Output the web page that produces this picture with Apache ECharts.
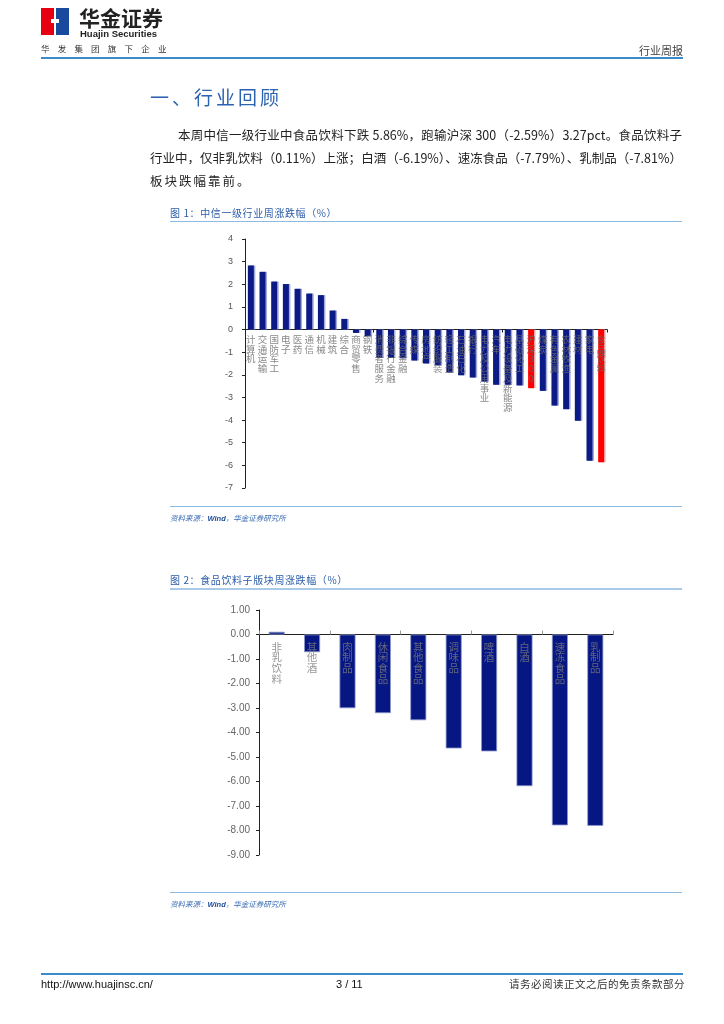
<!DOCTYPE html>
<html>
<head>
<meta charset="utf-8">
<script src="https://cdn.jsdelivr.net/npm/echarts@6/dist/echarts.min.js"></script>
<style>
  html,body{margin:0;padding:0;background:#fff;}
  body{width:724px;height:1024px;position:relative;overflow:hidden;font-family:"Noto Sans CJK SC","Liberation Sans",sans-serif;}
  #chart{position:absolute;left:0;top:0;width:724px;height:1024px;}
  .t{position:absolute;white-space:nowrap;line-height:1;}
  .line{position:absolute;}
</style>
</head>
<body>
<div id="chart"></div>

<!-- header -->
<div class="line" style="left:41px;top:8px;width:13px;height:27px;background:#E60012;"></div>
<div class="line" style="left:56px;top:8px;width:13px;height:27px;background:#1A4A9E;"></div>
<div class="line" style="left:51px;top:19px;width:8px;height:4px;background:#fff;"></div>
<div class="t" style="left:79px;top:7px;font-size:21px;font-weight:bold;color:#222;">华金证券</div>
<div class="t" style="left:80px;top:29px;font-size:9.5px;font-weight:bold;color:#222;font-family:'Liberation Sans',sans-serif;">Huajin Securities</div>
<div class="t" style="left:41px;top:44px;font-size:8.5px;color:#333;letter-spacing:8.2px;">华发集团旗下企业</div>
<div class="t" style="left:639px;top:45px;font-size:11px;color:#444;">行业周报</div>
<div class="line" style="left:41px;top:57px;width:642px;height:2px;background:#3A8DCA;"></div>

<!-- heading & paragraph -->
<div class="t" style="left:150px;top:87px;font-size:19px;color:#2C63B1;letter-spacing:3px;">一、行业回顾</div>
<div class="t" style="left:178px;top:129px;width:504px;font-size:12.5px;color:#222;text-align:justify;text-align-last:justify;">本周中信一级行业中食品饮料下跌 5.86%，跑输沪深 300（-2.59%）3.27pct。食品饮料子</div>
<div class="t" style="left:150px;top:152px;width:532px;font-size:12.5px;color:#222;text-align:justify;text-align-last:justify;">行业中，仅非乳饮料（0.11%）上涨；白酒（-6.19%）、速冻食品（-7.79%）、乳制品（-7.81%）</div>
<div class="t" style="left:150px;top:175px;font-size:12.5px;color:#222;letter-spacing:2px;">板块跌幅靠前。</div>

<!-- figure 1 caption -->
<div class="t" style="left:170px;top:208px;font-size:10px;color:#2C5DA8;letter-spacing:0.6px;">图 1：中信一级行业周涨跌幅（%）</div>
<div class="line" style="left:170px;top:221px;width:512px;height:1px;background:#8DBBE2;"></div>
<div class="line" style="left:170px;top:506px;width:512px;height:1px;background:#8DBBE2;"></div>
<div class="t" style="left:170px;top:514px;font-size:7.5px;color:#3C6DB5;font-style:italic;">资料来源：<span style="font-family:'Liberation Sans';font-weight:bold;color:#1F4E9A;">Wind</span>，华金证券研究所</div>

<!-- figure 2 caption -->
<div class="t" style="left:170px;top:575px;font-size:10px;color:#2C5DA8;letter-spacing:0.6px;">图 2：食品饮料子版块周涨跌幅（%）</div>
<div class="line" style="left:170px;top:588px;width:512px;height:2px;background:#A9CBE8;"></div>
<div class="line" style="left:170px;top:892px;width:512px;height:1px;background:#8DBBE2;"></div>
<div class="t" style="left:170px;top:900px;font-size:7.5px;color:#3C6DB5;font-style:italic;">资料来源：<span style="font-family:'Liberation Sans';font-weight:bold;color:#1F4E9A;">Wind</span>，华金证券研究所</div>

<!-- footer -->
<div class="line" style="left:41px;top:973px;width:642px;height:2px;background:#3A8DCA;"></div>
<div class="t" style="left:41px;top:979px;font-size:11px;color:#111;font-family:'Liberation Sans',sans-serif;">http://www.huajinsc.cn/</div>
<div class="t" style="left:336px;top:979px;font-size:11px;color:#111;font-family:'Liberation Sans',sans-serif;">3 / 11</div>
<div class="t" style="left:509px;top:979px;font-size:10.5px;color:#333;letter-spacing:0.5px;">请务必阅读正文之后的免责条款部分</div>

<script>
// ---- Figure 1 data ----
var industryNames = ['计算机','交通运输','国防军工','电子','医药','通信','机械','建筑','综合','商贸零售','钢铁','消费者服务','非银行金融','综合金融','传媒','房地产','纺织服装','轻工制造','石油石化','银行','电力及公用事业','汽车','电力设备及新能源','基础化工','沪深300','煤炭','有色金属','农林牧渔','建材','家电','食品饮料'];
var industryChange = [2.83,2.55,2.12,2.01,1.80,1.59,1.52,0.84,0.47,-0.15,-0.30,-1.25,-1.25,-1.27,-1.37,-1.50,-1.58,-1.90,-2.02,-2.12,-2.30,-2.44,-2.44,-2.47,-2.59,-2.71,-3.36,-3.52,-4.03,-5.80,-5.86];
var highlightNames = ['沪深300','食品饮料'];
var yTicks1 = {min:-7, max:4, interval:1};

// ---- Figure 2 data ----
var subNames = ['非乳饮料','其他酒','肉制品','休闲食品','其他食品','调味品','啤酒','白酒','速冻食品','乳制品'];
var subChange = [0.11,-0.72,-3.01,-3.21,-3.50,-4.65,-4.77,-6.19,-7.79,-7.81];
var yTicks2 = {min:-9, max:1, interval:1};

var FONT = '"Noto Sans CJK SC", sans-serif';
var NAVY = '#0B1A85';

function vertical(v){ return v.split('').join('\n'); }
function zeroLabels(names){ return names.map(function(n,i){ return {name:n, value:[i,0]}; }); }

var chart = echarts.init(document.getElementById('chart'), null, {renderer:'canvas'});
chart.setOption({
  animation:false,
  grid:[
    {left:245, top:239, width:362, height:249},
    {left:259, top:610, width:354, height:245}
  ],
  xAxis:[
    {gridIndex:0, type:'category', data:industryNames,
      axisLine:{onZero:true, lineStyle:{color:'#222', width:1}},
      axisTick:{show:true, length:3, lineStyle:{color:'#222'}},
      axisLabel:{show:false}
    },
    {gridIndex:1, type:'category', data:subNames,
      axisLine:{onZero:true, lineStyle:{color:'#222', width:1}},
      axisTick:{show:true, inside:true, length:4, lineStyle:{color:'#999'}},
      axisLabel:{show:false}
    }
  ],
  yAxis:[
    {gridIndex:0, type:'value', min:yTicks1.min, max:yTicks1.max, interval:yTicks1.interval,
      axisLine:{show:true, lineStyle:{color:'#222'}},
      axisTick:{show:true, length:3, lineStyle:{color:'#222'}},
      splitLine:{show:false},
      axisLabel:{fontSize:9, color:'#555', margin:12, fontFamily:'"Liberation Sans", sans-serif'}
    },
    {gridIndex:1, type:'value', min:yTicks2.min, max:yTicks2.max, interval:yTicks2.interval,
      axisLine:{show:true, lineStyle:{color:'#222'}},
      axisTick:{show:true, length:3, lineStyle:{color:'#222'}},
      splitLine:{show:false},
      axisLabel:{fontSize:10, color:'#666', margin:9, fontFamily:'"Liberation Sans", sans-serif',
        formatter:function(v){ return v.toFixed(2); }}
    }
  ],
  series:[
    {type:'bar', xAxisIndex:0, yAxisIndex:0, barWidth:6,
      data: industryChange.map(function(v,i){
        var red = highlightNames.indexOf(industryNames[i]) >= 0;
        return {value:v, itemStyle:{color: red ? '#FF0000' : NAVY,
          shadowColor: red ? 'rgba(255,150,150,0.7)' : 'rgba(140,150,210,0.8)', shadowOffsetX:1.5, shadowOffsetY:0, shadowBlur:0}};
      }),
      z:1
    },
    {type:'scatter', xAxisIndex:0, yAxisIndex:0, symbolSize:0, silent:true, z:5,
      data: zeroLabels(industryNames),
      label:{show:true, position:'bottom', distance:5, formatter:function(p){ return vertical(p.name); },
        fontSize:9.5, lineHeight:9.7, color:'#6a6a6a', fontFamily:FONT, align:'center', verticalAlign:'top'}
    },
    {type:'bar', xAxisIndex:1, yAxisIndex:1, barWidth:16,
      data: subChange,
      itemStyle:{color:'#061683', borderColor:'#8D97C8', borderWidth:0.8}
    },
    {type:'scatter', xAxisIndex:1, yAxisIndex:1, symbolSize:0, silent:true, z:5,
      data: zeroLabels(subNames),
      label:{show:true, position:'bottom', distance:7, formatter:function(p){ return vertical(p.name); },
        fontSize:10.5, lineHeight:10.6, color:'#7a7a7a', fontFamily:FONT, align:'center', verticalAlign:'top'}
    }
  ]
});
</script>
</body>
</html>
